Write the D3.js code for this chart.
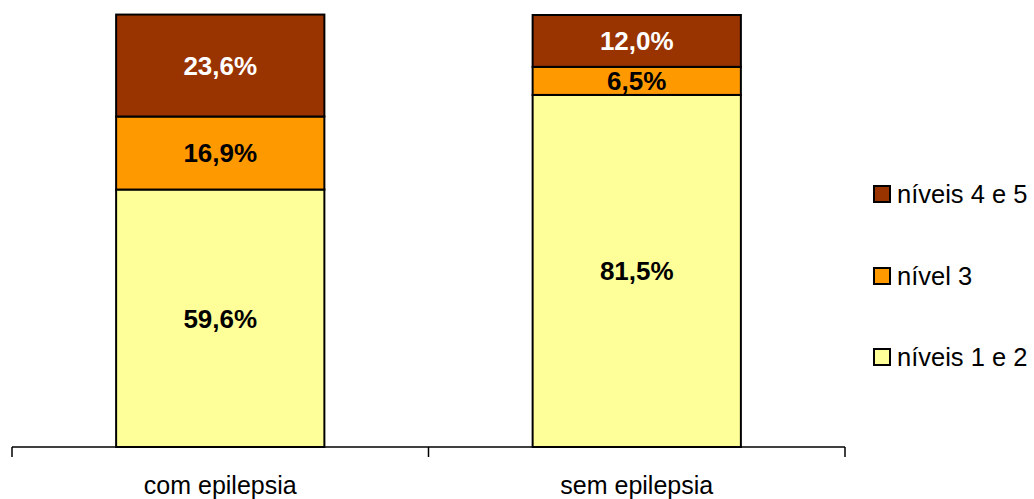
<!DOCTYPE html>
<html>
<head>
<meta charset="utf-8">
<script src="https://cdn.jsdelivr.net/npm/d3@7"></script>
<style>
  html, body { margin: 0; padding: 0; background: #fff; }
  svg { display: block; font-family: "Liberation Sans", Arial, sans-serif; }
</style>
</head>
<body>
<svg id="chart" width="1034" height="499"></svg>
<script>
// Groups and stacked shares (%)
const categories = ["com epilepsia", "sem epilepsia"];
const seriesNames = ["níveis 1 e 2", "nível 3", "níveis 4 e 5"];
const niveis12 = [59.6, 81.5];
const nivel3 = [16.9, 6.5];
const niveis45 = [23.6, 12.0];
const seriesColors = ["#FFFF99", "#FF9900", "#993300"];
const labelColors = ["#000", "#000", "#fff"];

const rows = categories.map((c, i) => ({
  cat: c,
  "níveis 1 e 2": niveis12[i],
  "nível 3": nivel3[i],
  "níveis 4 e 5": niveis45[i]
}));

const svg = d3.select("#chart");
const plotLeft = 12, plotRight = 845, plotTop = 15, plotBottom = 447;

const x = d3.scaleBand().domain(categories).range([plotLeft, plotRight]).paddingInner(0.5).paddingOuter(0.25);
const y = d3.scaleLinear().domain([0, 100]).range([plotBottom, plotTop]);

const stack = d3.stack().keys(seriesNames);
const layers = stack(rows);

const fmt = v => v.toFixed(1).replace(".", ",") + "%";

const g = svg.append("g");
layers.forEach((layer, si) => {
  const lg = g.append("g");
  lg.selectAll("rect").data(layer).join("rect")
    .attr("x", d => x(d.data.cat))
    .attr("width", x.bandwidth())
    .attr("y", d => y(d[1]))
    .attr("height", d => y(d[0]) - y(d[1]))
    .attr("fill", seriesColors[si])
    .attr("stroke", "#000")
    .attr("stroke-width", 2);
});
layers.forEach((layer, si) => {
  g.append("g").selectAll("text").data(layer).join("text")
    .attr("x", d => x(d.data.cat) + x.bandwidth() / 2)
    .attr("y", d => (y(d[0]) + y(d[1])) / 2)
    .attr("dy", "0.36em")
    .attr("text-anchor", "middle")
    .attr("font-size", 26)
    .attr("font-weight", "bold")
    .attr("fill", labelColors[si])
    .text(d => fmt(d.data[seriesNames[si]]));
});

// Category axis with ticks at band boundaries
const axisG = svg.append("g");
axisG.append("line")
  .attr("x1", plotLeft).attr("x2", plotRight)
  .attr("y1", plotBottom).attr("y2", plotBottom)
  .attr("stroke", "#000").attr("stroke-width", 1.5);
const boundaries = [plotLeft, (plotLeft + plotRight) / 2, plotRight];
axisG.selectAll("line.tick").data(boundaries).join("line")
  .attr("class", "tick")
  .attr("x1", d => d).attr("x2", d => d)
  .attr("y1", plotBottom).attr("y2", plotBottom + 10)
  .attr("stroke", "#000").attr("stroke-width", 1.5);
axisG.selectAll("text").data(categories).join("text")
  .attr("x", d => x(d) + x.bandwidth() / 2)
  .attr("y", 494)
  .attr("text-anchor", "middle")
  .attr("font-size", 25)
  .attr("fill", "#000")
  .text(d => d);

// Legend (top entry is the top segment)
const legendItems = seriesNames.slice().reverse();
const legendColors = seriesColors.slice().reverse();
const legendY = [194, 276, 357];
const leg = svg.append("g");
legendItems.forEach((name, i) => {
  leg.append("rect")
    .attr("x", 874).attr("y", legendY[i] - 8)
    .attr("width", 16).attr("height", 16)
    .attr("fill", legendColors[i])
    .attr("stroke", "#000").attr("stroke-width", 2);
  leg.append("text")
    .attr("x", 897).attr("y", legendY[i])
    .attr("dy", "0.36em")
    .attr("font-size", 25.5)
    .attr("fill", "#000")
    .text(name);
});
</script>
</body>
</html>
